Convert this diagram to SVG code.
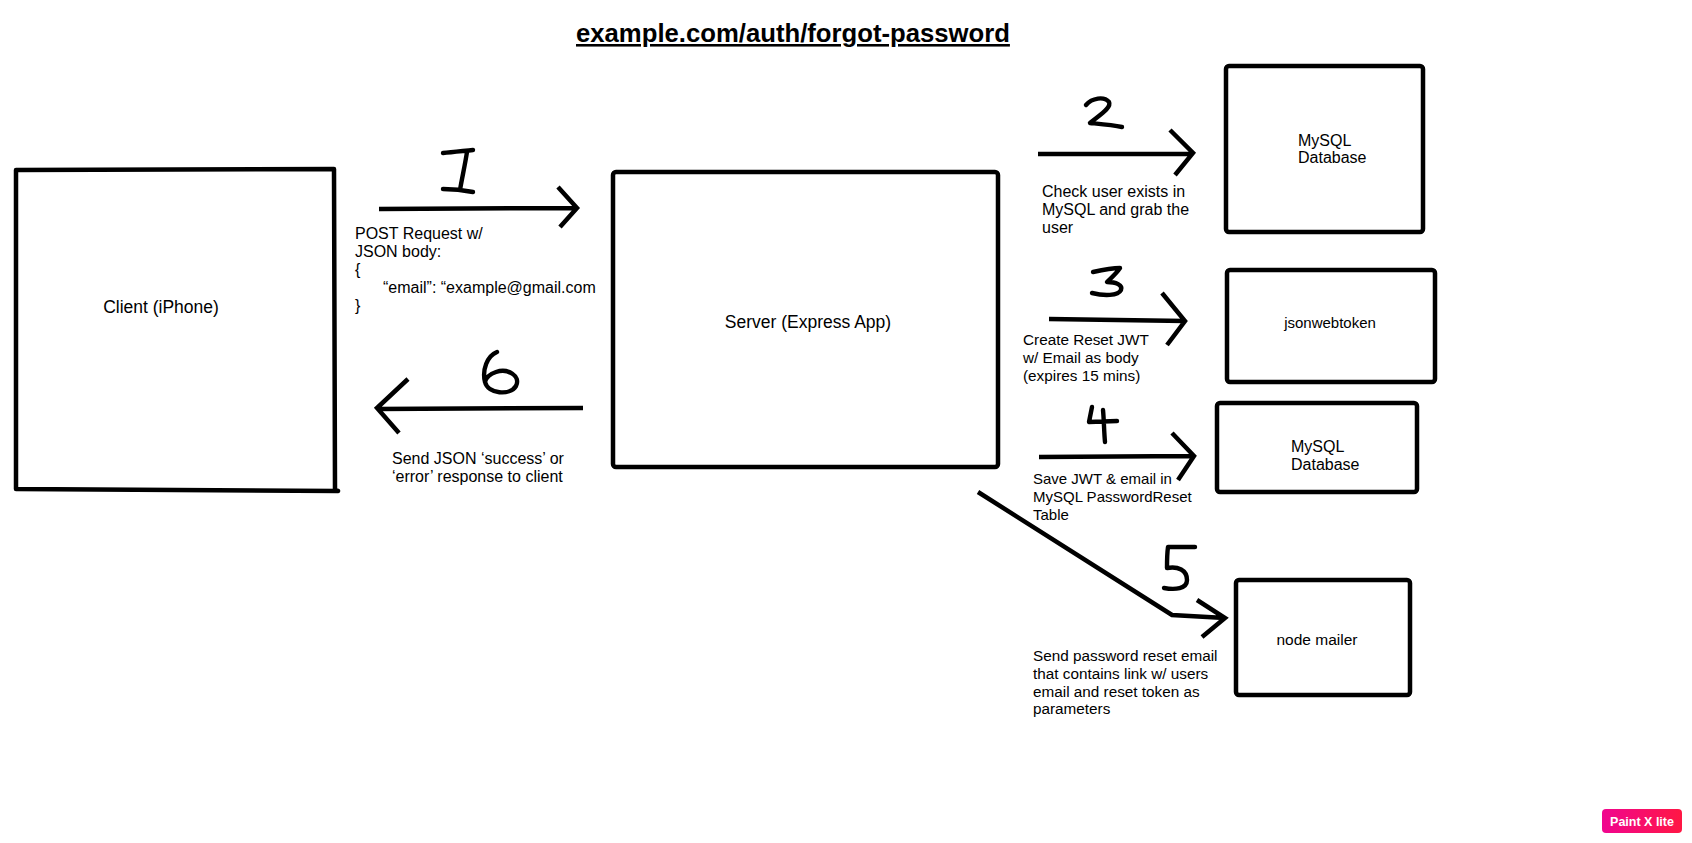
<svg xmlns="http://www.w3.org/2000/svg" width="1692" height="843" viewBox="0 0 1692 843">
  <defs>
    <linearGradient id="badgeGrad" x1="0" y1="0" x2="1" y2="0">
      <stop offset="0" stop-color="#f0058f"/>
      <stop offset="1" stop-color="#ff1744"/>
    </linearGradient>
  </defs>
  <style>
    .box { fill: #fff; stroke: #000; stroke-width: 4.5; stroke-linejoin: round; stroke-linecap: square; }
    .arrow { fill: none; stroke: #000; stroke-width: 4.5; stroke-linecap: butt; stroke-linejoin: miter; }
    .digit { fill: none; stroke: #000; stroke-width: 4.4; stroke-linecap: round; stroke-linejoin: round; }
    .t { font-family: "Liberation Sans", Arial, Helvetica, sans-serif; fill: #000; }
    .node { font-size: 17.5px; text-anchor: middle; }
    .small { font-size: 16px; }
    .note { font-size: 16px; }
    .note15 { font-size: 15.3px; }
    .title { font-size: 25.7px; font-weight: bold; text-decoration: underline; }
  </style>
  <rect width="1692" height="843" fill="#fff"/>

  <!-- heading -->
  <text class="t title" x="576" y="42">example.com/auth/forgot-password</text>

  <!-- client -->
  <g id="client">
    <path class="box" d="M16,170 L334,169 L335,490 L338,491 L16,489 Z"/>
    <text class="t node" x="161" y="313">Client (iPhone)</text>
  </g>

  <!-- server -->
  <g id="server">
    <rect class="box" x="613" y="172" width="385" height="295" rx="3"/>
    <text class="t node" x="808" y="328">Server (Express App)</text>
  </g>

  <!-- user lookup database -->
  <g id="mysql-users">
    <rect class="box" x="1226" y="66" width="197" height="166" rx="3"/>
    <text class="t small" x="1298" y="146">MySQL</text>
    <text class="t small" x="1298" y="163">Database</text>
  </g>

  <!-- token signer -->
  <g id="jsonwebtoken">
    <rect class="box" x="1227" y="270" width="208" height="112" rx="3"/>
    <text class="t" font-size="15px" text-anchor="middle" x="1330" y="328">jsonwebtoken</text>
  </g>

  <!-- reset table database -->
  <g id="mysql-reset">
    <rect class="box" x="1217" y="403" width="200" height="89" rx="3"/>
    <text class="t small" x="1291" y="452">MySQL</text>
    <text class="t small" x="1291" y="470">Database</text>
  </g>

  <!-- mail sender -->
  <g id="nodemailer">
    <rect class="box" x="1236" y="580" width="174" height="115" rx="3"/>
    <text class="t" font-size="15.5px" text-anchor="middle" x="1317" y="645">node mailer</text>
  </g>

  <!-- connectors -->
  <g id="connectors">
    <!-- 1: client -> server -->
    <g id="step-1">
      <path class="arrow" d="M379,209 L577,208 M558,187 L577,208 L560,227"/>
      <path class="digit" d="M443,153 C452,152 463,151 473,150 M467,152 C465,165 462,178 460,190 M443,189 C453,189 463,190 473,192"/>
      <text class="t note">
        <tspan x="355" y="239">POST Request w/</tspan>
        <tspan x="355" y="257">JSON body:</tspan>
        <tspan x="355" y="275">{</tspan>
        <tspan x="383" y="293">“email”: “example@gmail.com</tspan>
        <tspan x="355" y="311">}</tspan>
      </text>
    </g>

    <!-- 2: server -> user lookup -->
    <g id="step-2">
      <path class="arrow" d="M1038,154 L1193,154 M1170,130 L1193,153 L1175,175"/>
      <path class="digit" d="M1086,105 C1092,98 1104,96 1109,102 C1112,108 1098,116 1090,123 C1100,124 1112,125 1122,127"/>
      <text class="t note">
        <tspan x="1042" y="197">Check user exists in</tspan>
        <tspan x="1042" y="215">MySQL and grab the</tspan>
        <tspan x="1042" y="233">user</tspan>
      </text>
    </g>

    <!-- 3: server -> jsonwebtoken -->
    <g id="step-3">
      <path class="arrow" d="M1049,319 L1185,321 M1162,293 L1185,321 L1167,345"/>
      <path class="digit" d="M1093,272 C1102,270 1112,268 1120,268 C1116,274 1111,278 1107,282 C1116,282 1123,285 1121,290 C1118,296 1104,296 1092,293"/>
      <text class="t note15">
        <tspan x="1023" y="345">Create Reset JWT</tspan>
        <tspan x="1023" y="363">w/ Email as body</tspan>
        <tspan x="1023" y="381">(expires 15 mins)</tspan>
      </text>
    </g>

    <!-- 4: server -> reset table -->
    <g id="step-4">
      <path class="arrow" d="M1039,457 L1194,456 M1172,433 L1194,456 L1178,480"/>
      <path class="digit" d="M1092,407 C1091,412 1090,417 1089,422 L1117,421 M1103,410 C1104,420 1104,432 1105,442"/>
      <text class="t" font-size="15px">
        <tspan x="1033" y="484">Save JWT &amp; email in</tspan>
        <tspan x="1033" y="502">MySQL PasswordReset</tspan>
        <tspan x="1033" y="520">Table</tspan>
      </text>
    </g>

    <!-- 5: server -> node mailer -->
    <g id="step-5">
      <path class="arrow" d="M978,492 L1172,615 L1225,618 M1197,600 L1225,618 L1202,637"/>
      <path class="digit" d="M1195,547 L1168,547 C1167,554 1167,561 1167,568 C1178,566 1187,570 1187,580 C1187,589 1175,590 1164,588"/>
      <text class="t note15">
        <tspan x="1033" y="661">Send password reset email</tspan>
        <tspan x="1033" y="679">that contains link w/ users</tspan>
        <tspan x="1033" y="697">email and reset token as</tspan>
        <tspan x="1033" y="714">parameters</tspan>
      </text>
    </g>

    <!-- 6: server -> client -->
    <g id="step-6">
      <path class="arrow" d="M583,408 L377,409 M408,379 L377,408 L399,433"/>
      <path class="digit" d="M497,352 C487,356 482,370 485,382 C488,394 510,396 516,386 C521,376 508,368 496,372 C490,374 486,378 485,382"/>
      <text class="t note">
        <tspan x="392" y="464">Send JSON ‘success’ or</tspan>
        <tspan x="392" y="482">‘error’ response to client</tspan>
      </text>
    </g>
  </g>

  <!-- editor badge -->
  <g id="badge">
    <rect x="1602" y="809" width="80" height="24" rx="4" fill="url(#badgeGrad)"/>
    <text class="t" x="1642" y="825.5" font-size="12.5px" font-weight="bold" text-anchor="middle" style="fill:#fff">Paint X lite</text>
  </g>
</svg>
